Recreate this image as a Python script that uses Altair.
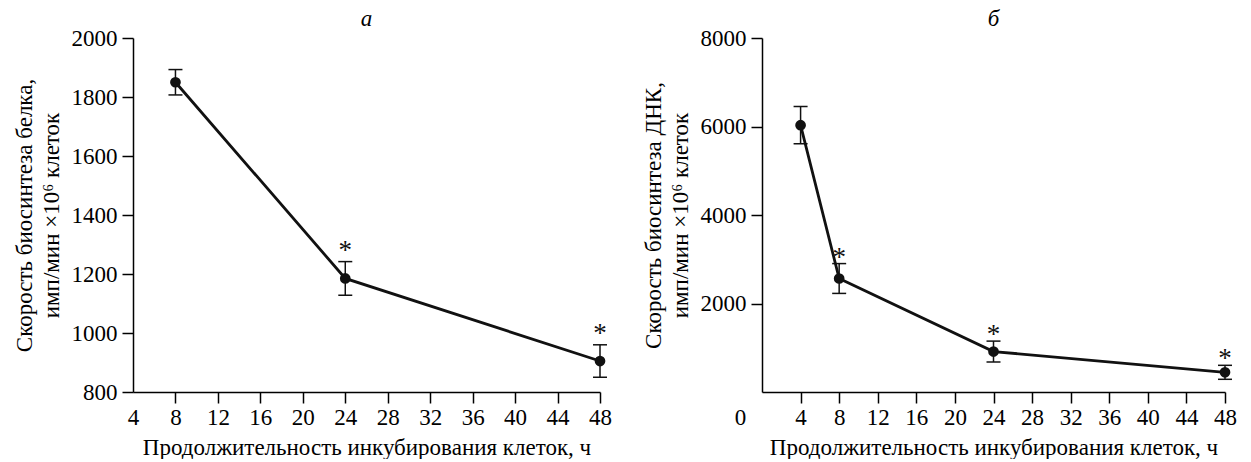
import altair as alt
import pandas as pd

# Panel a: protein biosynthesis
hours_a = [8, 24, 48]
protein = [1850, 1185, 905]
protein_err = [43, 57, 55]
star_a = ["", "*", "*"]

# Panel b: DNA biosynthesis
hours_b = [4, 8, 24, 48]
dna = [6030, 2565, 914, 445]
dna_err = [420, 337, 236, 158]
star_b = ["", "*", "*", "*"]

xticks_a = [4, 8, 12, 16, 20, 24, 28, 32, 36, 40, 44, 48]
yticks_a = [800, 1000, 1200, 1400, 1600, 1800, 2000]
xticks_b = [0, 4, 8, 12, 16, 20, 24, 28, 32, 36, 40, 44, 48]
yticks_b = [2000, 4000, 6000, 8000]

x_title = "Продолжительность инкубирования клеток, ч"
y_title_a = ["Скорость биосинтеза белка,", "имп/мин ×10⁶ клеток"]
y_title_b = ["Скорость биосинтеза ДНК,", "имп/мин ×10⁶ клеток"]

FONT = "Liberation Serif"
FS = 23
INK = "#111111"


def panel(hours, vals, errs, stars, xdom, ydom, xvals, yvals, ytitle, title,
          star_dy, width):
    df = pd.DataFrame({
        "h": hours,
        "v": vals,
        "lo": [v - e for v, e in zip(vals, errs)],
        "hi": [v + e for v, e in zip(vals, errs)],
        "star": stars,
    })
    xaxis = alt.Axis(
        values=xvals, title=x_title, grid=False, format="d",
        labelFlush=False, labelOverlap=False,
        labelFont=FONT, labelFontSize=FS, labelColor="black",
        titleFont=FONT, titleFontSize=FS, titleColor="black",
        titleFontWeight="normal",
        tickSize=11, tickWidth=1.5, tickColor="black",
        tickOpacity=alt.expr(f"datum.value == {xdom[0]} ? 0 : 1"),
        labelOffset=alt.expr("datum.value == 0 ? -22 : 0"),
        labelPadding=3, titlePadding=7,
        domainColor="black", domainWidth=1.5,
    )
    yaxis = alt.Axis(
        values=yvals, title=ytitle, grid=False, format="d",
        labelFlush=False, labelOverlap=False,
        labelFont=FONT, labelFontSize=FS, labelColor="black",
        titleFont=FONT, titleFontSize=FS, titleColor="black",
        titleFontWeight="normal",
        tickSize=11, tickWidth=1.5, tickColor="black",
        labelPadding=5, titlePadding=8, titleLineHeight=27,
        domainColor="black", domainWidth=1.5,
    )
    xs = alt.Scale(domain=xdom, nice=False, zero=False)
    ys = alt.Scale(domain=ydom, nice=False, zero=False)

    def X():
        return alt.X("h:Q", scale=xs, axis=xaxis)

    def Y(f):
        return alt.Y(f"{f}:Q", scale=ys, axis=yaxis)

    base = alt.Chart(df)
    line = base.mark_line(color=INK, strokeWidth=2.8).encode(x=X(), y=Y("v"))
    rule = base.mark_rule(color=INK, strokeWidth=1.5).encode(
        x=X(), y=Y("lo"), y2="hi:Q")
    cap_lo = base.mark_tick(color=INK, orient="horizontal", size=14,
                            thickness=1.5, opacity=1).encode(x=X(), y=Y("lo"))
    cap_hi = base.mark_tick(color=INK, orient="horizontal", size=14,
                            thickness=1.5, opacity=1).encode(x=X(), y=Y("hi"))
    pts = base.mark_point(filled=True, color=INK, size=115,
                          opacity=1, shape="circle").encode(x=X(), y=Y("v"))
    txt = base.mark_text(font=FONT, fontSize=27, color=INK,
                         baseline="alphabetic", dy=star_dy).encode(
        x=X(), y=Y("hi"), text="star:N")
    return alt.layer(line, rule, cap_lo, cap_hi, pts, txt).properties(
        width=width, height=354,
        title=alt.TitleParams(title, font=FONT, fontSize=FS,
                              fontStyle="italic", fontWeight="normal",
                              anchor="middle", offset=-4, frame="group",
                              color="black"),
    )


left = panel(hours_a, protein, protein_err, star_a, [4, 48], [800, 2000],
             xticks_a, yticks_a, y_title_a, "а", -3, 467)
right = panel(hours_b, dna, dna_err, star_b, [0, 48], [0, 8000],
              xticks_b, yticks_b, y_title_b, "б", 2, 463)

chart = alt.hconcat(left, right, spacing=30).configure_view(
    stroke=None
).properties(background="white", padding={"left": 5, "top": 0, "right": 0, "bottom": 0})

chart.save("out.html", embed_options={"renderer": "svg", "actions": False})
